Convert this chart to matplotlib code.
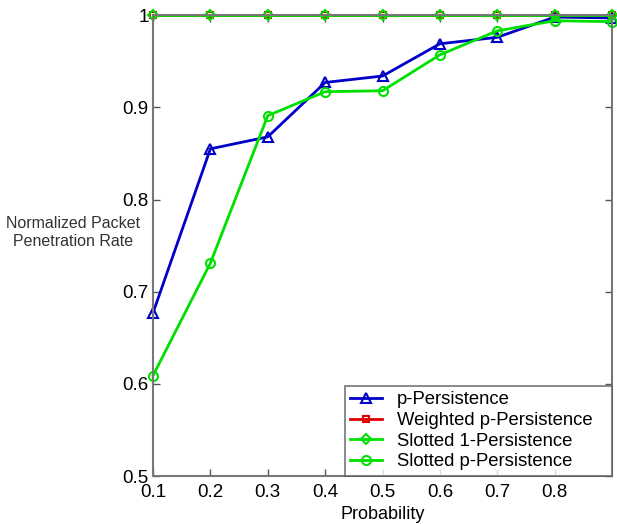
import matplotlib.pyplot as plt

plt.rcParams["font.family"] = ["Liberation Sans", "DejaVu Sans"]

# ------------------------
# Data
# ------------------------
prob = [0.1, 0.2, 0.3, 0.4, 0.5, 0.6, 0.7, 0.8, 0.9]
p_persist = [0.677, 0.855, 0.868, 0.927, 0.934, 0.969, 0.976, 0.998, 0.997]
weighted_p = [1.0, 1.0, 1.0, 1.0, 1.0, 1.0, 1.0, 1.0, 1.0]
slotted_1 = [1.0, 1.0, 1.0, 1.0, 1.0, 1.0, 1.0, 1.0, 1.0]
slotted_p = [0.609, 0.731, 0.891, 0.917, 0.918, 0.957, 0.983, 0.994, 0.993]

xtick_vals = [0.1, 0.2, 0.3, 0.4, 0.5, 0.6, 0.7, 0.8]
ytick_vals = [0.5, 0.6, 0.7, 0.8, 0.9, 1.0]
ytick_labels = ["0.5", "0.6", "0.7", "0.8", "0.9", "1"]

blue = "#0000c8"
red = "#e00000"
green = "#00e000"

# ------------------------
# Plot
# ------------------------
fig = plt.figure(figsize=(6.17, 5.24), dpi=100)
ax = fig.add_axes([0.248, 0.0916, 0.744, 0.8794])

style = dict(mfc="none", mew=1.5, linewidth=2, clip_on=False)
ax.plot(prob, p_persist, color=blue, marker="^", markersize=7,
        label="p-Persistence", **style)
ax.plot(prob, weighted_p, color=red, marker="s", markersize=5,
        label="Weighted p-Persistence", **style)
ax.plot(prob, slotted_1, color=green, marker="D", markersize=5,
        label="Slotted 1-Persistence", **style)
ax.plot(prob, slotted_p, color=green, marker="o", markersize=6.5,
        label="Slotted p-Persistence", **style)

# ------------------------
# Axis formatting
# ------------------------
ax.set_xlim(0.1, 0.9)
ax.set_ylim(0.5, 1.0)
ax.set_xticks(xtick_vals)
ax.set_xticklabels([f"{v:.1f}" for v in xtick_vals])
ax.set_yticks(ytick_vals)
ax.set_yticklabels(ytick_labels)
ax.tick_params(direction="in", top=True, right=True, length=5,
               labelsize=13.5, color="#555555", width=1)
ax.tick_params(axis="x", pad=6)
ax.tick_params(axis="y", pad=3)
for s in ax.spines.values():
    s.set_color("#777777")
    s.set_linewidth(1.5)

ax.set_xlabel("Probability", fontsize=13, labelpad=3)
ax.set_ylabel("Normalized Packet\nPenetration Rate", fontsize=11.5,
              rotation=0, ha="center", va="center", color="#333333",
              linespacing=1.25)
ax.yaxis.set_label_coords(-0.174, 0.528)

# legend box stretched to the reference width (lower right corner)
leg = ax.legend(loc="lower left", bbox_to_anchor=(0.418, 0.0, 0.582, 0.2),
                mode="expand", fontsize=13.3, frameon=True, fancybox=False,
                borderpad=0.3, labelspacing=0.2, handlelength=1.7,
                handletextpad=0.8, borderaxespad=0)
leg.get_frame().set_edgecolor("#555555")
leg.get_frame().set_linewidth(1.2)

plt.savefig("out.png", dpi=100)
